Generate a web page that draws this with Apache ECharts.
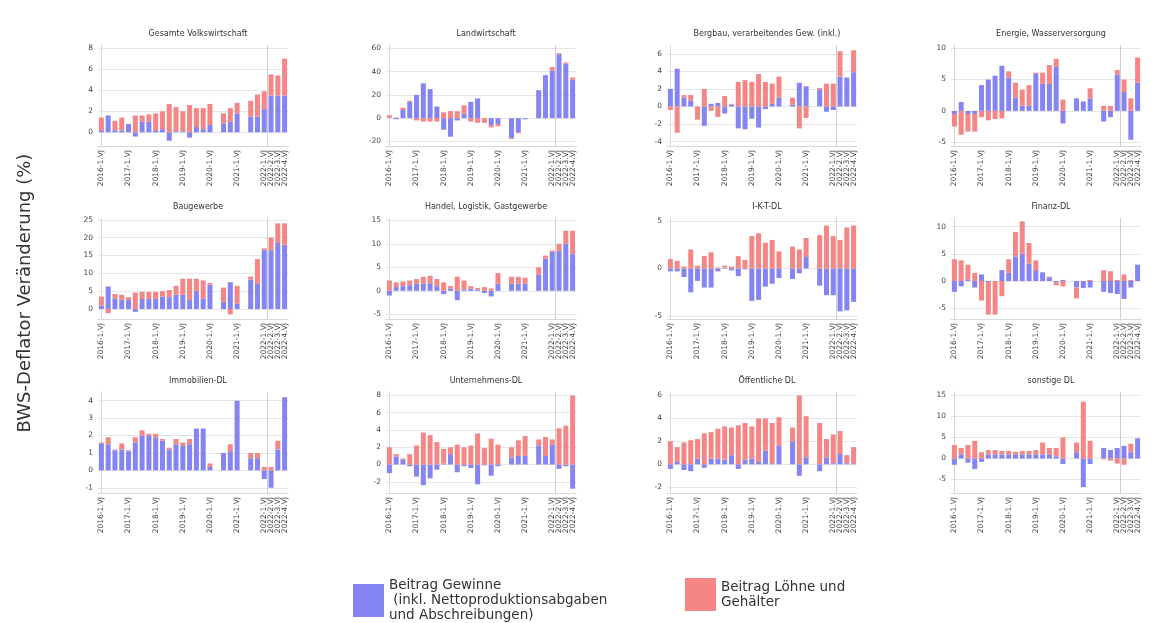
<!DOCTYPE html>
<html>
<head>
<meta charset="utf-8">
<script src="https://cdn.jsdelivr.net/npm/echarts@6/dist/echarts.min.js"></script>
<style>
  html, body { margin: 0; padding: 0; background: #ffffff; }
  #chart { width: 1164px; height: 623px; }
</style>
</head>
<body>
<div id="chart"></div>
<script>
// Quarters on the x axis (2016 Q1 .. 2022 Q4)
const quarters = [
  '2016-1.VJ', '2016-2.VJ', '2016-3.VJ', '2016-4.VJ',
  '2017-1.VJ', '2017-2.VJ', '2017-3.VJ', '2017-4.VJ',
  '2018-1.VJ', '2018-2.VJ', '2018-3.VJ', '2018-4.VJ',
  '2019-1.VJ', '2019-2.VJ', '2019-3.VJ', '2019-4.VJ',
  '2020-1.VJ', '2020-2.VJ', '2020-3.VJ', '2020-4.VJ',
  '2021-1.VJ', '2021-2.VJ', '2021-3.VJ', '2021-4.VJ',
  '2022-1.VJ', '2022-2.VJ', '2022-3.VJ', '2022-4.VJ'
];

// Reference marker (in quarter index units): late February 2022
const markerQuarter = 24.4;

const sectorTitles = [
  'Gesamte Volkswirtschaft', 'Landwirtschaft', 'Bergbau, verarbeitendes Gew. (inkl.)', 'Energie, Wasserversorgung',
  'Baugewerbe', 'Handel, Logistik, Gastgewerbe', 'I-K-T-DL', 'Finanz-DL',
  'Immobilien-DL', 'Unternehmens-DL', 'Öffentliche DL', 'sonstige DL'
];

const seriesGewinne = 'Beitrag Gewinne\n (inkl. Nettoproduktionsabgaben\nund Abschreibungen)';
const seriesLoehne = 'Beitrag Löhne und\nGehälter';

// Contribution of profits (Gewinne) per sector, percentage points
const gewinneGesamt = [0.2, 1.6, 0.2, 0.2, 0.8, -0.4, 1.0, 1.0, 0.2, 0.3, -0.8, 0.1, 0.1, -0.5, 0.5, 0.3, 0.7, null, 0.8, 1.0, 1.8, null, 1.5, 1.5, 2.2, 3.5, 3.5, 3.5];
const gewinneLandwirtschaft = [0.5, -1, 7, 14, 20, 30, 25, 10, -10, -16, -2, 4, 14, 17, 0, -6, -5, null, -17, -12, -1, null, 24, 37, 41, 55, 47, 33];
const gewinneBergbau = [2, 4.3, 1, 0.7, 0, -2.2, 0.3, 0.4, -0.8, 0.2, -2.5, -2.6, -1.4, -2.4, -0.3, 0.3, 1.0, null, 0.2, 2.7, 2.3, null, 1.9, -0.6, -0.4, 3.4, 3.3, 3.9];
const gewinneEnergie = [-0.5, 1.4, -0.5, -0.5, 4.1, 5.0, 5.6, 7.2, 5.3, 2.1, 0.8, 0.8, 5.9, 4.3, 4.3, 7.0, -2.0, null, 2.0, 1.5, 2.0, null, -1.7, -1.0, 5.8, 3.0, -4.6, 4.5];
const gewinneBau = [1.0, 6.3, 3, 2.5, 2.5, -0.8, 2.8, 2.8, 2.8, 3.5, 3.3, 4, 4, 2.5, 5, 3, 6.8, null, 2, 7.5, 1.5, null, 8.3, 7, 16.5, 16.5, 18.5, 18];
const gewinneHandel = [-1.0, 0.8, 1, 1.2, 1.5, 1.5, 1.6, 1, -0.7, 0.5, -2.0, 0.3, 0.5, 0.3, -0.5, -1.2, 1.5, null, 1.5, 1.5, 1.5, null, 3.5, 6.8, 8.3, 8.5, 10, 7.8];
const gewinneIKT = [-0.3, -0.3, -0.9, -2.5, -1.3, -2.0, -2.0, -0.3, 0.1, -0.2, -0.8, -0.1, -3.4, -3.3, -1.9, -1.6, -1.0, null, -1.1, -0.5, 1.2, null, -1.8, -2.8, -2.8, -4.5, -4.4, -3.5];
const gewinneFinanz = [-2, -1, 0.3, -1.2, 1.2, -0.2, 0, 2.0, 1.5, 4.5, 5, 3.2, 2, 1.6, 0.7, -0.3, 0.2, null, -1.2, -1.3, -1.2, null, -2, -2.2, -2.4, -3.3, -1.2, 3.0];
const gewinneImmobilien = [1.55, 1.5, 1.15, 1.2, 1.1, 1.6, 2.0, 2.0, 1.9, 1.7, 1.2, 1.5, 1.4, 1.5, 2.4, 2.4, 0.2, null, 1.0, 1.1, 4.0, null, 0.7, 0.7, -0.5, -1.0, 1.2, 4.2];
const gewinneUnternehmen = [-1.0, 0.9, 0.6, -0.2, -1.4, -2.4, -1.6, -0.6, 0.1, 1.2, -0.9, -0.2, -0.4, -2.3, -0.1, -1.3, -0.2, null, 0.8, 1.0, 1.0, null, 2.2, 1.0, 2.3, -0.5, -0.2, -2.8];
const gewinneOeffentlich = [-0.4, 0.2, -0.5, -0.6, 0.5, -0.3, 0.5, 0.5, 0.4, 0.8, -0.4, 0.4, 0.5, 0.2, 1.2, 0.1, 1.6, null, 2.0, -1.0, 0.6, null, -0.6, 0.6, 0.1, 0.9, 0.1, 0.1];
const gewinneSonstige = [-1.5, 1.0, -1.0, -2.5, -0.8, 1.0, 1.0, 1.0, 1.0, 1.0, 1.0, 1.0, 1.0, 1.0, 1.0, 0.5, -1.3, null, 1.5, -6.8, -1.3, null, 2.5, 2.0, 2.5, 3.0, 1.5, 4.8];

// Contribution of wages (Löhne und Gehälter) per sector, percentage points
const loehneGesamt = [1.2, 0, 0.9, 1.2, 0, 1.6, 0.6, 0.7, 1.6, 1.7, 2.7, 2.3, 1.9, 2.6, 1.8, 2.0, 2.0, null, 1.0, 1.3, 1.0, null, 1.5, 2.1, 1.7, 2.0, 1.9, 3.5];
const loehneLandwirtschaft = [2, 0.5, 2, 1, -2, -3, -3, -3, 5, 6, 6, 7, -3, -4, -4, -2, -2, null, -1, -1, 0, null, 0, 0, 3, 1, 1, 2];
const loehneBergbau = [-0.4, -3, 0.3, 0.6, -1.5, 2, -0.5, -1.2, 1.2, 0.1, 2.8, 3.0, 2.8, 3.7, 2.8, 2.3, 2.4, null, 0.8, -2.5, -1.3, null, 0.2, 2.6, 2.6, 2.9, 0, 2.5];
const loehneEnergie = [-2.0, -3.8, -2.8, -2.8, -1.0, -1.5, -1.3, -1.2, 1.0, 2.4, 2.6, 3.3, 0.2, 1.8, 3.0, 1.3, 1.8, null, 0, 0, 1.6, null, 0.8, 0.8, 0.7, 2.0, 2.0, 4.0];
const loehneBau = [2.5, -1.2, 1.2, 1.5, 0.8, 4.6, 2.0, 2.0, 2.0, 1.5, 2.0, 2.5, 4.5, 6, 3.5, 5, 0.5, null, 4, -1.5, 5, null, 0.8, 7, 0.5, 3.5, 5.5, 6];
const loehneHandel = [2.2, 1.0, 1, 1, 1, 1.5, 1.6, 1.5, 1.8, 0.5, 3.0, 1.9, 0.5, 0.3, 0.8, 0.5, 2.3, null, 1.5, 1.5, 1.3, null, 1.5, 0.7, 0.3, 1.5, 2.8, 5.0];
const loehneIKT = [1.0, 0.8, 0.2, 2.0, 0.3, 1.3, 1.7, 0.1, 0.2, 0.2, 1.3, 0.9, 3.4, 3.7, 2.7, 3.0, 1.8, null, 2.3, 2.0, 2.0, null, 3.5, 4.5, 3.4, 3.0, 4.3, 4.5];
const loehneFinanz = [4, 3.8, 2.7, 1.5, -3.6, -6, -6.2, -2.8, 2.5, 4.5, 6, 3.8, 1.8, 0, 0.1, -0.5, -1.0, null, -2.0, 0, 0.2, null, 2, 1.8, 0.2, 1.2, 0.2, 0];
const loehneImmobilien = [0.05, 0.4, 0.05, 0.35, 0.05, 0.3, 0.3, 0.1, 0.2, 0.1, 0.1, 0.3, 0.2, 0.3, 0, 0, 0.2, null, 0, 0.4, 0, null, 0.3, 0.3, 0.2, 0.2, 0.5, 0];
const loehneUnternehmen = [2.0, 0.3, 0.1, 1.2, 2.2, 3.7, 3.4, 2.6, 1.7, 0.8, 2.3, 2.0, 2.2, 3.6, 1.9, 3.0, 2.3, null, 1.2, 1.8, 2.3, null, 0.7, 2.2, 0.6, 4.2, 4.5, 8.0];
const loehneOeffentlich = [2.0, 1.3, 1.9, 2.1, 1.7, 2.7, 2.3, 2.6, 2.9, 2.4, 3.4, 3.2, 2.8, 3.8, 2.8, 3.5, 2.5, null, 1.2, 6.0, 3.6, null, 3.6, 1.6, 2.5, 2.0, 0.7, 1.4];
const loehneSonstige = [3.2, 1.5, 3.2, 4.2, 1.5, 1.0, 1.0, 0.8, 0.8, 0.6, 0.8, 0.8, 1.0, 2.8, 1.5, 2.0, 5.0, null, 2.3, 13.5, 4.2, null, -0.2, -0.5, -1.2, -1.5, 2.0, 0];

// Y tick labels for each panel
const yTicksGesamt = [0, 2, 4, 6, 8];
const yTicksLandwirtschaft = [-20, 0, 20, 40, 60];
const yTicksBergbau = [-4, -2, 0, 2, 4, 6];
const yTicksEnergie = [-5, 0, 5, 10];
const yTicksBau = [0, 5, 10, 15, 20, 25];
const yTicksHandel = [-5, 0, 5, 10, 15];
const yTicksIKT = [-5, 0, 5];
const yTicksFinanz = [-5, 0, 5, 10];
const yTicksImmobilien = [-1, 0, 1, 2, 3, 4];
const yTicksUnternehmen = [-2, 0, 2, 4, 6, 8];
const yTicksOeffentlich = [-2, 0, 2, 4, 6];
const yTicksSonstige = [-5, 0, 5, 10, 15];

const panels = [
  { gewinne: gewinneGesamt, loehne: loehneGesamt, ticks: yTicksGesamt, range: [-1.3, 8.3] },
  { gewinne: gewinneLandwirtschaft, loehne: loehneLandwirtschaft, ticks: yTicksLandwirtschaft, range: [-24, 63] },
  { gewinne: gewinneBergbau, loehne: loehneBergbau, ticks: yTicksBergbau, range: [-4.5, 7] },
  { gewinne: gewinneEnergie, loehne: loehneEnergie, ticks: yTicksEnergie, range: [-5.6, 10.5] },
  { gewinne: gewinneBau, loehne: loehneBau, ticks: yTicksBau, range: [-2.8, 25.5] },
  { gewinne: gewinneHandel, loehne: loehneHandel, ticks: yTicksHandel, range: [-6, 15.5] },
  { gewinne: gewinneIKT, loehne: loehneIKT, ticks: yTicksIKT, range: [-5.3, 5.3] },
  { gewinne: gewinneFinanz, loehne: loehneFinanz, ticks: yTicksFinanz, range: [-7, 11.6] },
  { gewinne: gewinneImmobilien, loehne: loehneImmobilien, ticks: yTicksImmobilien, range: [-1.3, 4.5] },
  { gewinne: gewinneUnternehmen, loehne: loehneUnternehmen, ticks: yTicksUnternehmen, range: [-3.3, 8.4] },
  { gewinne: gewinneOeffentlich, loehne: loehneOeffentlich, ticks: yTicksOeffentlich, range: [-2.5, 6.3] },
  { gewinne: gewinneSonstige, loehne: loehneSonstige, ticks: yTicksSonstige, range: [-8.2, 15.8] }
];

// Layout of the 4 x 3 panel grid
const colLeft = [98, 386, 667, 951];
const rowTop = [45, 218, 392];
const panelWidth = 190;
const panelHeight = 101;

const colorGewinne = '#8484f2';
const colorLoehne = '#f48686';
const font = 'DejaVu Sans';
const n = panels.length;

const grids = [], xAxes = [], xAxesAlt = [], markerAxes = [], yAxes = [], series = [], titles = [];

const quarterLabel = { rotate: 90, margin: 4, fontSize: 7.5, fontFamily: font, color: '#444', hideOverlap: false };

panels.forEach((p, k) => {
  const col = k % 4, row = Math.floor(k / 4);
  grids.push({ left: colLeft[col], top: rowTop[row], width: panelWidth, height: panelHeight });

  titles.push({
    text: sectorTitles[k],
    left: colLeft[col] + panelWidth / 2,
    top: rowTop[row] - 20,
    textAlign: 'center',
    textStyle: { fontFamily: font, fontSize: 8, fontWeight: 'normal', color: '#333' }
  });

  // Main quarter axis: every first quarter, plus 2022 Q3
  xAxes.push({
    type: 'category', gridIndex: k, data: quarters, position: 'bottom', offset: 0,
    axisLine: { show: true, onZero: false, lineStyle: { color: '#d9d9d9' } },
    axisTick: { show: false },
    axisLabel: Object.assign({}, quarterLabel, { interval: (i) => i % 4 === 0 || i === 26 }),
    splitLine: { show: false }
  });

  // Companion quarter axis carrying the remaining 2022 labels (Q2, Q4),
  // so neighbouring labels of the dense 2022 block are not dropped
  xAxesAlt.push({
    type: 'category', gridIndex: k, data: quarters, position: 'bottom', offset: 0,
    axisLine: { show: false }, axisTick: { show: false },
    axisLabel: Object.assign({}, quarterLabel, { interval: (i) => i === 25 || i === 27 }),
    splitLine: { show: false }
  });

  // Hidden numeric twin of the quarter axis, used for the reference marker
  markerAxes.push({
    type: 'value', gridIndex: k, min: -0.5, max: quarters.length - 0.5, show: false
  });

  yAxes.push({
    type: 'value', gridIndex: k, min: p.range[0], max: p.range[1],
    axisLine: { show: true, lineStyle: { color: '#d9d9d9' } },
    axisTick: { show: false, customValues: p.ticks },
    axisLabel: { customValues: p.ticks, fontSize: 7.5, fontFamily: font, color: '#444', margin: 5 },
    splitLine: { show: true, lineStyle: { color: '#e6e6e6', width: 1 } }
  });

  series.push({
    name: seriesGewinne, type: 'bar', stack: 'p' + k, xAxisIndex: k, yAxisIndex: k,
    data: p.gewinne, barWidth: 5, itemStyle: { color: colorGewinne },
    emphasis: { disabled: true }
  });
  series.push({
    name: seriesLoehne, type: 'bar', stack: 'p' + k, xAxisIndex: k, yAxisIndex: k,
    data: p.loehne, barWidth: 5, itemStyle: { color: colorLoehne },
    emphasis: { disabled: true }
  });
  series.push({
    type: 'line', xAxisIndex: 2 * n + k, yAxisIndex: k, silent: true,
    data: [[markerQuarter, 0]], symbol: 'none', lineStyle: { opacity: 0 },
    markLine: {
      silent: true, symbol: ['none', 'none'], label: { show: false },
      lineStyle: { color: '#d0d0d0', width: 1, type: 'solid' },
      data: [{ xAxis: markerQuarter }]
    }
  });
});

const legendText = { fontFamily: font, fontSize: 13.5, lineHeight: 15, color: '#333' };

const option = {
  animation: false,
  backgroundColor: '#ffffff',
  title: titles,
  grid: grids,
  xAxis: xAxes.concat(xAxesAlt, markerAxes),
  yAxis: yAxes,
  series: series,
  legend: [
    { data: [seriesGewinne], left: 348, top: 573, icon: 'rect', itemWidth: 31, itemHeight: 33,
      itemGap: 6, textStyle: legendText, selectedMode: false },
    { data: [seriesLoehne], left: 680, top: 573, icon: 'rect', itemWidth: 31, itemHeight: 33,
      itemGap: 6, textStyle: legendText, selectedMode: false }
  ],
  graphic: [{
    type: 'text', x: 25, y: 293, rotation: Math.PI / 2,
    style: {
      text: 'BWS-Deflator Veränderung (%)', fontFamily: font, fontSize: 18,
      fill: '#333', align: 'center', verticalAlign: 'middle'
    }
  }]
};

const chart = echarts.init(document.getElementById('chart'), null, { renderer: 'canvas' });
chart.setOption(option);
</script>
</body>
</html>
